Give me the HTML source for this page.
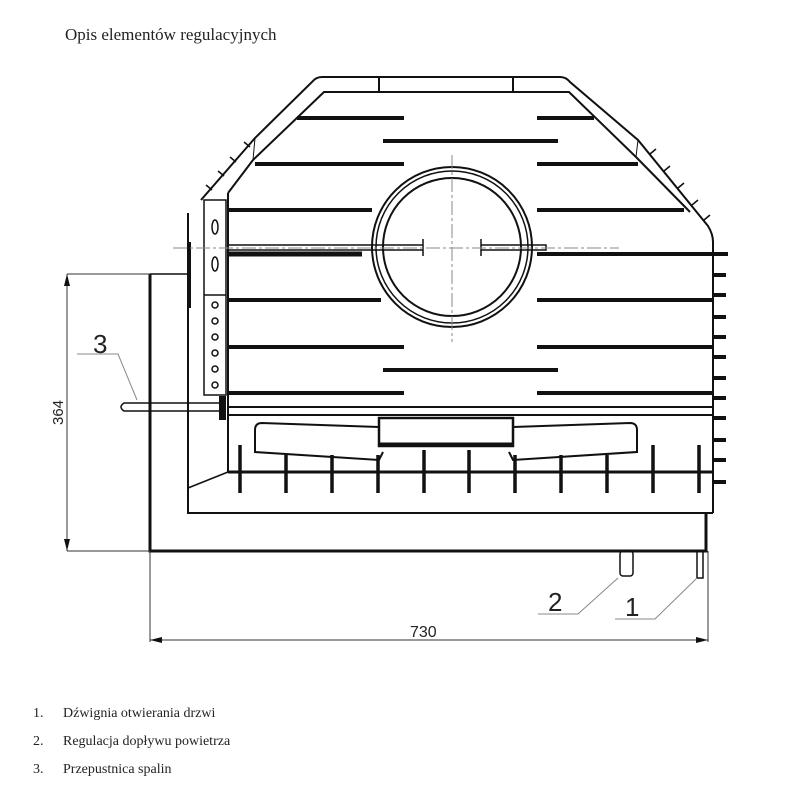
<!DOCTYPE html>
<html><head><meta charset="utf-8"><style>
body{margin:0;background:#fff;width:800px;height:800px;overflow:hidden}
svg{display:block}
</style></head><body>
<svg width="800" height="800" viewBox="0 0 800 800" xmlns="http://www.w3.org/2000/svg">
<g font-family="Liberation Serif, serif" fill="#222">
<text x="65" y="40" font-size="17">Opis elementów regulacyjnych</text>
<text x="33" y="717" font-size="14">1.</text><text x="63" y="717" font-size="14">Dźwignia otwierania drzwi</text>
<text x="33" y="745" font-size="14">2.</text><text x="63" y="745" font-size="14">Regulacja dopływu powietrza</text>
<text x="33" y="773" font-size="14">3.</text><text x="63" y="773" font-size="14">Przepustnica spalin</text>
</g>
<g stroke="#111" fill="none" stroke-width="2">
<path d="M201,200 L255,138 L312,82 Q316,77 322,77 L560,77 Q566,77 570,82 L638,140 L708,226 Q713,234 713,242 L713,513"/>
<path d="M253,160 L324,92 L569,92 L636,157 L690,212"/>
<line x1="379" y1="77" x2="379" y2="92"/><line x1="513" y1="77" x2="513" y2="92"/>
<line x1="253" y1="160" x2="228" y2="193"/>
<line x1="255" y1="138" x2="253" y2="160" stroke-width="1"/>
<line x1="638" y1="140" x2="636" y2="157" stroke-width="1"/>
<g stroke-width="1.5">
<line x1="250" y1="147" x2="244" y2="142"/><line x1="236" y1="162" x2="230" y2="157"/><line x1="224" y1="176" x2="218" y2="171"/><line x1="212" y1="190" x2="206" y2="185"/>
<line x1="650" y1="154" x2="656" y2="149"/><line x1="664" y1="171" x2="670" y2="166"/><line x1="678" y1="188" x2="684" y2="183"/><line x1="692" y1="205" x2="698" y2="200"/><line x1="704" y1="220" x2="710" y2="215"/>
</g>
<line x1="228" y1="193" x2="228" y2="472"/>
<path d="M188,213 L188,513 L713,513"/>
<line x1="188" y1="488" x2="228" y2="472" stroke-width="1.5"/>
<path d="M150,274 L188,274" stroke-width="1.5"/>
<path d="M150,274 L150,551 L706,551 L706,513" stroke-width="3"/>
<line x1="189" y1="242" x2="189" y2="308" stroke-width="4"/>
<rect x="204" y="200" width="22" height="195" stroke-width="1.5"/>
<line x1="204" y1="295" x2="226" y2="295" stroke-width="1.5"/>
<g stroke-width="1.5"><ellipse cx="215" cy="227" rx="3" ry="7"/><ellipse cx="215" cy="264" rx="3" ry="7"/>
<circle cx="215" cy="305" r="3"/><circle cx="215" cy="321" r="3"/><circle cx="215" cy="337" r="3"/><circle cx="215" cy="353" r="3"/><circle cx="215" cy="369" r="3"/><circle cx="215" cy="385" r="3"/></g>
</g>
<g stroke="#111" stroke-width="4">
<line x1="297" y1="118" x2="404" y2="118"/><line x1="537" y1="118" x2="594" y2="118"/>
<line x1="383" y1="141" x2="558" y2="141"/>
<line x1="255" y1="164" x2="404" y2="164"/><line x1="537" y1="164" x2="638" y2="164"/>
<line x1="228" y1="210" x2="372" y2="210"/><line x1="537" y1="210" x2="684" y2="210"/>
<line x1="228" y1="254" x2="362" y2="254" stroke-width="5"/><line x1="537" y1="254" x2="728" y2="254"/>
<line x1="228" y1="300" x2="381" y2="300"/><line x1="537" y1="300" x2="713" y2="300"/>
<line x1="228" y1="347" x2="404" y2="347"/><line x1="537" y1="347" x2="713" y2="347"/>
<line x1="383" y1="370" x2="558" y2="370"/>
<line x1="228" y1="393" x2="404" y2="393"/><line x1="537" y1="393" x2="713" y2="393"/>
<line x1="228" y1="472" x2="713" y2="472" stroke-width="3"/>
</g>
<g stroke="#111" stroke-width="4">
<line x1="713" y1="275" x2="726" y2="275"/><line x1="713" y1="295" x2="726" y2="295"/><line x1="713" y1="317" x2="726" y2="317"/><line x1="713" y1="337" x2="726" y2="337"/><line x1="713" y1="357" x2="726" y2="357"/><line x1="713" y1="378" x2="726" y2="378"/><line x1="713" y1="398" x2="726" y2="398"/><line x1="713" y1="418" x2="726" y2="418"/><line x1="713" y1="440" x2="726" y2="440"/><line x1="713" y1="460" x2="726" y2="460"/><line x1="713" y1="482" x2="726" y2="482"/>
</g>
<g stroke="#111" stroke-width="3.5">
<line x1="240" y1="445" x2="240" y2="493"/><line x1="286" y1="455" x2="286" y2="493"/><line x1="332" y1="455" x2="332" y2="493"/><line x1="378" y1="455" x2="378" y2="493"/><line x1="424" y1="450" x2="424" y2="493"/><line x1="469" y1="450" x2="469" y2="493"/><line x1="515" y1="455" x2="515" y2="493"/><line x1="561" y1="455" x2="561" y2="493"/><line x1="607" y1="455" x2="607" y2="493"/><line x1="653" y1="445" x2="653" y2="493"/><line x1="699" y1="445" x2="699" y2="493"/>
</g>
<g stroke="#111" stroke-width="2" fill="none">
<line x1="228" y1="407" x2="713" y2="407"/><line x1="228" y1="415" x2="713" y2="415"/>
<path d="M222,403 L124,403 Q118,407 124,411 L222,411" stroke-width="1.5"/>
<rect x="220" y="397" width="5" height="22" fill="#111"/>
<rect x="379" y="418" width="134" height="28" stroke-width="2.5"/>
<line x1="379" y1="444" x2="513" y2="444" stroke-width="3"/>
<path d="M379,427 L262,423 Q255,423 255,430 L255,452 L379,460 L383,452" stroke-width="2"/>
<path d="M513,427 L630,423 Q637,423 637,430 L637,452 L513,460 L509,452" stroke-width="2"/>
<circle cx="452" cy="247" r="80" stroke-width="2"/>
<circle cx="452" cy="247" r="76" stroke-width="1.5"/>
<circle cx="452" cy="247" r="69" stroke-width="2"/>
<path d="M228,245 L423,245 M228,250 L423,250 M423,239 L423,256 M481,239 L481,256 M481,245 L546,245 L546,250 L481,250" stroke-width="1.5"/>
<line x1="173" y1="248" x2="619" y2="248" stroke="#888" stroke-width="1" stroke-dasharray="14,3,3,3"/>
<line x1="452" y1="155" x2="452" y2="342" stroke="#888" stroke-width="1" stroke-dasharray="14,3,3,3"/>
<rect x="620" y="551" width="13" height="25" rx="3" stroke-width="1.5"/>
<rect x="697" y="551" width="6" height="27" stroke-width="1.5"/>
</g>
<g stroke="#333" stroke-width="1" fill="none">
<line x1="67" y1="274" x2="67" y2="551"/><line x1="67" y1="274" x2="150" y2="274"/><line x1="67" y1="551" x2="150" y2="551"/>
<line x1="150" y1="551" x2="150" y2="642"/><line x1="708" y1="551" x2="708" y2="642"/>
<line x1="150" y1="640" x2="708" y2="640"/>
<path d="M77,354 L118,354 L137,400" stroke="#888"/>
<path d="M538,614 L578,614 L618,578" stroke="#888"/>
<path d="M615,619 L655,619 L697,578" stroke="#888"/>
</g>
<g fill="#111">
<path d="M67,274 L64,286 L70,286Z"/><path d="M67,551 L64,539 L70,539Z"/>
<path d="M150,640 L162,637 L162,643Z"/><path d="M708,640 L696,637 L696,643Z"/>
</g>
<g font-family="Liberation Sans, sans-serif" fill="#222">
<text x="93" y="353" font-size="26">3</text>
<text x="548" y="611" font-size="26">2</text>
<text x="625" y="616" font-size="26">1</text>
<text x="410" y="637" font-size="16">730</text>
<text transform="translate(63,425) rotate(-90)" font-size="15">364</text>
</g>
</svg>
</body></html>
